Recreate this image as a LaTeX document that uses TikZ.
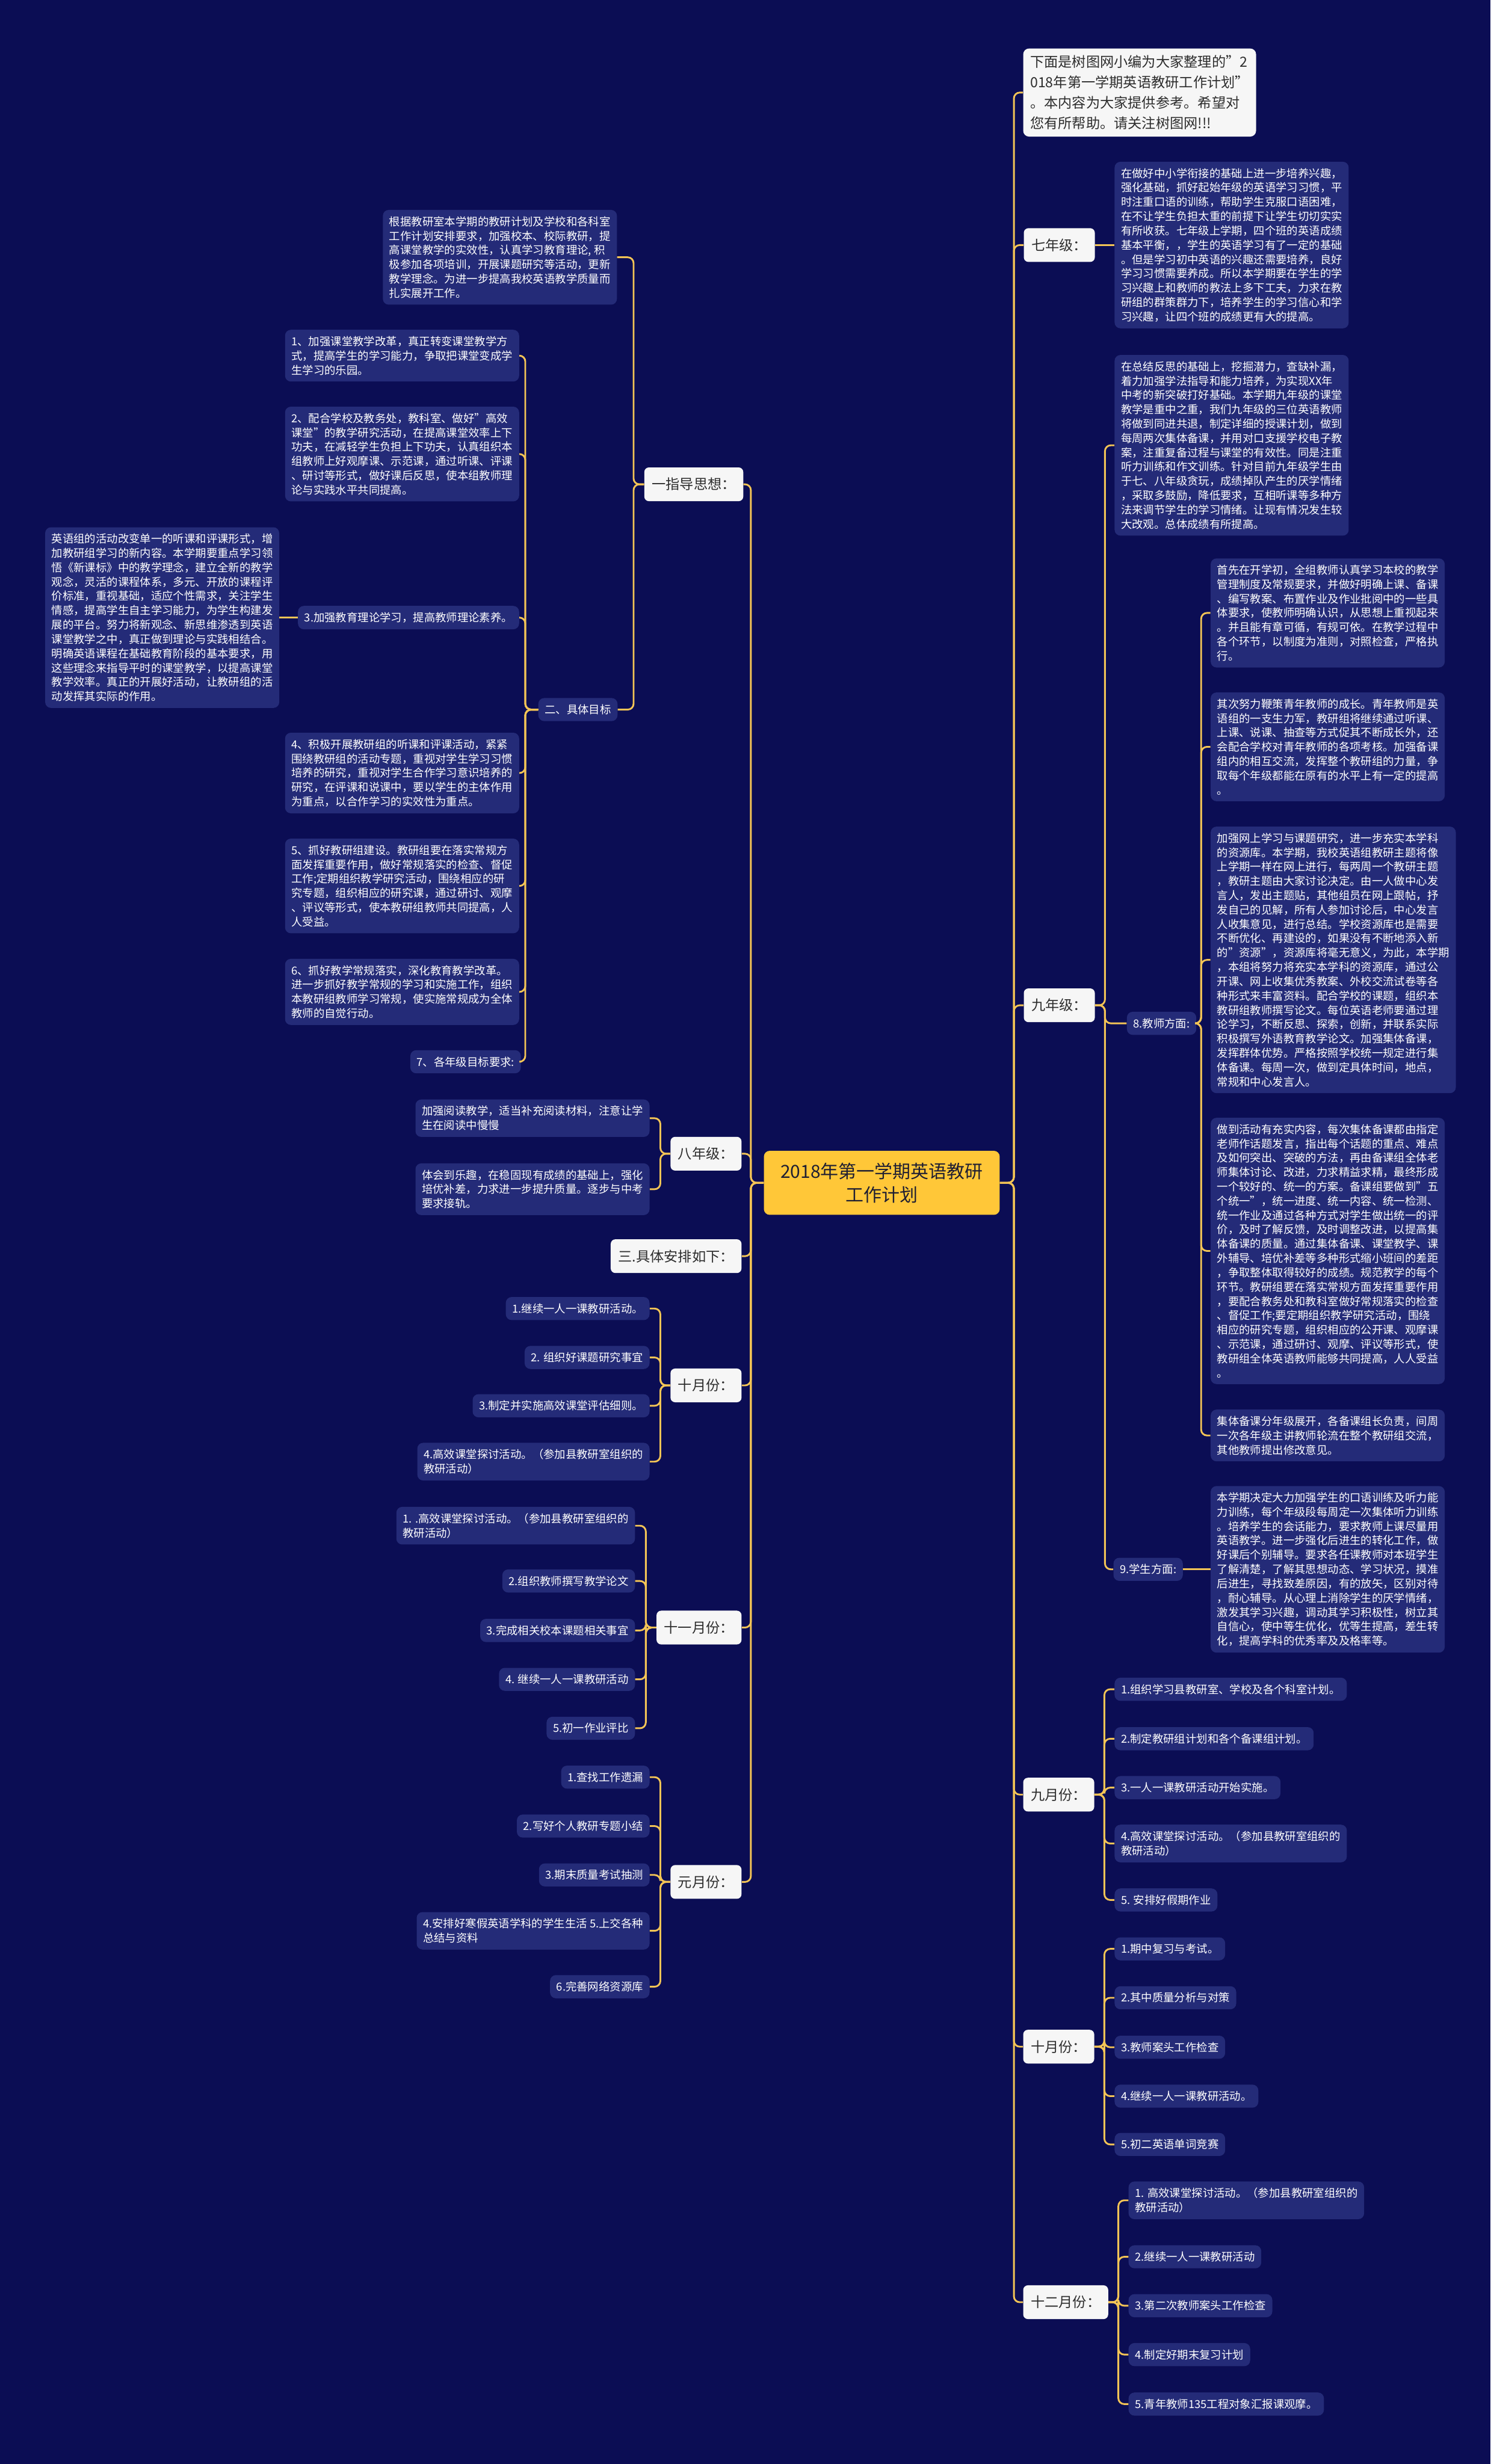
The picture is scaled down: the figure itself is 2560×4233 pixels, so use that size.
\documentclass[tikz,border=0pt]{standalone}
\usepackage{fontspec}
\setmainfont{Noto Sans CJK SC}
\definecolor{bgc}{RGB}{11,13,84}
\definecolor{blockc}{RGB}{36,43,120}
\definecolor{gold}{RGB}{243,196,86}
\definecolor{lblc}{RGB}{246,246,246}
\definecolor{lbltext}{RGB}{45,45,45}
\definecolor{centerc}{RGB}{255,199,56}
\definecolor{centertext}{RGB}{30,30,50}
\begin{document}
\begin{tikzpicture}[x=0.5pt,y=-0.5pt,
  blk/.style={fill=blockc, text=white, rounded corners=5pt, inner xsep=5.5pt, inner ysep=5.5pt, align=left, font=\fontsize{9.5pt}{12.3pt}\selectfont},
  lbl/.style={fill=lblc, text=lbltext, rounded corners=4pt, inner xsep=6.5pt, inner ysep=3pt, minimum height=29pt, font=\fontsize{12pt}{14pt}\selectfont},
  notebox/.style={fill=lblc, text=lbltext, rounded corners=5pt, inner xsep=6pt, inner ysep=6pt, align=left, font=\fontsize{12pt}{17.5pt}\selectfont},
  centerbox/.style={fill=centerc, text=centertext, rounded corners=5pt, minimum width=202.5pt, minimum height=55pt, align=center, font=\fontsize{15.5pt}{20pt}\selectfont},
  conn/.style={draw=gold, line width=1.5pt, rounded corners=5pt}]
\fill[bgc] (0,0) rectangle (2560,4233);
\useasboundingbox (0,0) rectangle (2560,4233);

% center
\node[centerbox] (ctr) at (1514.5,2032) {2018年第一学期英语教研\\工作计划};

% ---------- right side ----------
\node[notebox, anchor=west] (note) at (1757,159) {下面是树图网小编为大家整理的"2\\018年第一学期英语教研工作计划"\\。本内容为大家提供参考。希望对\\您有所帮助。请关注树图网!!!};

\node[lbl, anchor=west] (g7) at (1758,421) {七年级：};
\node[blk, anchor=west] (g7b) at (1914,421) {在做好中小学衔接的基础上进一步培养兴趣，\\强化基础，抓好起始年级的英语学习习惯，平\\时注重口语的训练，帮助学生克服口语困难，\\在不让学生负担太重的前提下让学生切切实实\\有所收获。七年级上学期，四个班的英语成绩\\基本平衡，，学生的英语学习有了一定的基础\\。但是学习初中英语的兴趣还需要培养，良好\\学习习惯需要养成。所以本学期要在学生的学\\习兴趣上和教师的教法上多下工夫，力求在教\\研组的群策群力下，培养学生的学习信心和学\\习兴趣，让四个班的成绩更有大的提高。};

\node[lbl, anchor=west] (g9) at (1758,1727) {九年级：};
\node[blk, anchor=west] (g9a) at (1914,765) {在总结反思的基础上，挖掘潜力，查缺补漏，\\着力加强学法指导和能力培养，为实现XX年\\中考的新突破打好基础。本学期九年级的课堂\\教学是重中之重，我们九年级的三位英语教师\\将做到同进共退，制定详细的授课计划，做到\\每周两次集体备课，并用对口支援学校电子教\\案，注重复备过程与课堂的有效性。同是注重\\听力训练和作文训练。针对目前九年级学生由\\于七、八年级贪玩，成绩掉队产生的厌学情绪\\，采取多鼓励，降低要求，互相听课等多种方\\法来调节学生的学习情绪。让现有情况发生较\\大改观。总体成绩有所提高。};
\node[blk, anchor=east] (t8) at (2055,1758) {8.教师方面:};
\node[blk, anchor=west] (t8a) at (2079,1053) {首先在开学初，全组教师认真学习本校的教学\\管理制度及常规要求，并做好明确上课、备课\\、编写教案、布置作业及作业批阅中的一些具\\体要求，使教师明确认识，从思想上重视起来\\。并且能有章可循，有规可依。在教学过程中\\各个环节，以制度为准则，对照检查，严格执\\行。};
\node[blk, anchor=west] (t8b) at (2079,1283) {其次努力鞭策青年教师的成长。青年教师是英\\语组的一支生力军，教研组将继续通过听课、\\上课、说课、抽查等方式促其不断成长外，还\\会配合学校对青年教师的各项考核。加强备课\\组内的相互交流，发挥整个教研组的力量，争\\取每个年级都能在原有的水平上有一定的提高\\。};
\node[blk, anchor=west] (t8c) at (2079,1649) {加强网上学习与课题研究，进一步充实本学科\\的资源库。本学期，我校英语组教研主题将像\\上学期一样在网上进行，每两周一个教研主题\\，教研主题由大家讨论决定。由一人做中心发\\言人，发出主题贴，其他组员在网上跟帖，抒\\发自己的见解，所有人参加讨论后，中心发言\\人收集意见，进行总结。学校资源库也是需要\\不断优化、再建设的，如果没有不断地添入新\\的"资源"，资源库将毫无意义，为此，本学期\\，本组将努力将充实本学科的资源库，通过公\\开课、网上收集优秀教案、外校交流试卷等各\\种形式来丰富资料。配合学校的课题，组织本\\教研组教师撰写论文。每位英语老师要通过理\\论学习，不断反思、探索，创新，并联系实际\\积极撰写外语教育教学论文。加强集体备课，\\发挥群体优势。严格按照学校统一规定进行集\\体备课。每周一次，做到定具体时间，地点，\\常规和中心发言人。};
\node[blk, anchor=west] (t8d) at (2079,2149) {做到活动有充实内容，每次集体备课都由指定\\老师作话题发言，指出每个话题的重点、难点\\及如何突出、突破的方法，再由备课组全体老\\师集体讨论、改进，力求精益求精，最终形成\\一个较好的、统一的方案。备课组要做到"五\\个统一"，统一进度、统一内容、统一检测、\\统一作业及通过各种方式对学生做出统一的评\\价，及时了解反馈，及时调整改进，以提高集\\体备课的质量。通过集体备课、课堂教学、课\\外辅导、培优补差等多种形式缩小班间的差距\\，争取整体取得较好的成绩。规范教学的每个\\环节。教研组要在落实常规方面发挥重要作用\\，要配合教务处和教科室做好常规落实的检查\\、督促工作;要定期组织教学研究活动，围绕\\相应的研究专题，组织相应的公开课、观摩课\\、示范课，通过研讨、观摩、评议等形式，使\\教研组全体英语教师能够共同提高，人人受益\\。};
\node[blk, anchor=west] (t8e) at (2079,2466) {集体备课分年级展开，各备课组长负责，间周\\一次各年级主讲教师轮流在整个教研组交流，\\其他教师提出修改意见。};
\node[blk, anchor=west] (s9) at (1912,2696) {9.学生方面:};
\node[blk, anchor=west] (s9b) at (2079,2696) {本学期决定大力加强学生的口语训练及听力能\\力训练，每个年级段每周定一次集体听力训练\\。培养学生的会话能力，要求教师上课尽量用\\英语教学。进一步强化后进生的转化工作，做\\好课后个别辅导。要求各任课教师对本班学生\\了解清楚，了解其思想动态、学习状况，摸准\\后进生，寻找致差原因，有的放矢，区别对待\\，耐心辅导。从心理上消除学生的厌学情绪，\\激发其学习兴趣，调动其学习积极性，树立其\\自信心，使中等生优化，优等生提高，差生转\\化，提高学科的优秀率及及格率等。};

\node[lbl, anchor=west] (m9) at (1757,3083) {九月份：};
\node[blk, anchor=west] (m9a) at (1914,2902) {1.组织学习县教研室、学校及各个科室计划。};
\node[blk, anchor=west] (m9b) at (1914,2987) {2.制定教研组计划和各个备课组计划。};
\node[blk, anchor=west] (m9c) at (1914,3071) {3.一人一课教研活动开始实施。};
\node[blk, anchor=west] (m9d) at (1914,3167) {4.高效课堂探讨活动。（参加县教研室组织的\\教研活动）};
\node[blk, anchor=west] (m9e) at (1914,3264) {5. 安排好假期作业};

\node[lbl, anchor=west] (m10) at (1757,3516) {十月份：};
\node[blk, anchor=west] (m10a) at (1914,3348) {1.期中复习与考试。};
\node[blk, anchor=west] (m10b) at (1914,3432) {2.其中质量分析与对策};
\node[blk, anchor=west] (m10c) at (1914,3517) {3.教师案头工作检查};
\node[blk, anchor=west] (m10d) at (1914,3601) {4.继续一人一课教研活动。};
\node[blk, anchor=west] (m10e) at (1914,3684) {5.初二英语单词竞赛};

\node[lbl, anchor=west] (m12) at (1757,3955) {十二月份：};
\node[blk, anchor=west] (m12a) at (1938,3780) {1. 高效课堂探讨活动。（参加县教研室组织的\\教研活动）};
\node[blk, anchor=west] (m12b) at (1938,3877) {2.继续一人一课教研活动};
\node[blk, anchor=west] (m12c) at (1938,3961) {3.第二次教师案头工作检查};
\node[blk, anchor=west] (m12d) at (1938,4045) {4.制定好期末复习计划};
\node[blk, anchor=west] (m12e) at (1938,4130) {5.青年教师135工程对象汇报课观摩。};

% ---------- left side ----------
\node[lbl, anchor=east] (zd) at (1277,832) {一指导思想：};
\node[blk, anchor=east] (intro) at (1060,442) {根据教研室本学期的教研计划及学校和各科室\\工作计划安排要求，加强校本、校际教研，提\\高课堂教学的实效性，认真学习教育理论, 积\\极参加各项培训，开展课题研究等活动，更新\\教学理念。为进一步提高我校英语教学质量而\\扎实展开工作。};
\node[blk, anchor=east] (mb) at (1061,1219) {二、具体目标};
\node[blk, anchor=east] (i1) at (892,611) {1、加强课堂教学改革，真正转变课堂教学方\\式，提高学生的学习能力，争取把课堂变成学\\生学习的乐园。};
\node[blk, anchor=east] (i2) at (892,780) {2、配合学校及教务处，教科室、做好"高效\\课堂"的教学研究活动，在提高课堂效率上下\\功夫，在减轻学生负担上下功夫，认真组织本\\组教师上好观摩课、示范课，通过听课、评课\\、研讨等形式，做好课后反思，使本组教师理\\论与实践水平共同提高。};
\node[blk, anchor=east] (i3) at (892,1061) {3.加强教育理论学习，提高教师理论素养。};
\node[blk, anchor=east] (i3b) at (480,1061) {英语组的活动改变单一的听课和评课形式，增\\加教研组学习的新内容。本学期要重点学习领\\悟《新课标》中的教学理念，建立全新的教学\\观念，灵活的课程体系，多元、开放的课程评\\价标准，重视基础，适应个性需求，关注学生\\情感，提高学生自主学习能力，为学生构建发\\展的平台。努力将新观念、新思维渗透到英语\\课堂教学之中，真正做到理论与实践相结合。\\明确英语课程在基础教育阶段的基本要求，用\\这些理念来指导平时的课堂教学，以提高课堂\\教学效率。真正的开展好活动，让教研组的活\\动发挥其实际的作用。};
\node[blk, anchor=east] (i4) at (892,1328) {4、积极开展教研组的听课和评课活动，紧紧\\围绕教研组的活动专题，重视对学生学习习惯\\培养的研究，重视对学生合作学习意识培养的\\研究，在评课和说课中，要以学生的主体作用\\为重点，以合作学习的实效性为重点。};
\node[blk, anchor=east] (i5) at (892,1522) {5、抓好教研组建设。教研组要在落实常规方\\面发挥重要作用，做好常规落实的检查、督促\\工作;定期组织教学研究活动，围绕相应的研\\究专题，组织相应的研究课，通过研讨、观摩\\、评议等形式，使本教研组教师共同提高，人\\人受益。};
\node[blk, anchor=east] (i6) at (892,1704) {6、抓好教学常规落实，深化教育教学改革。\\进一步抓好教学常规的学习和实施工作，组织\\本教研组教师学习常规，使实施常规成为全体\\教师的自觉行动。};
\node[blk, anchor=east] (i7) at (895,1824) {7、各年级目标要求:};

\node[lbl, anchor=east] (g8) at (1274,1982) {八年级：};
\node[blk, anchor=east] (g8a) at (1116,1921) {加强阅读教学，适当补充阅读材料，注意让学\\生在阅读中慢慢};
\node[blk, anchor=east] (g8b) at (1116,2043) {体会到乐趣，在稳固现有成绩的基础上，强化\\培优补差，力求进一步提升质量。逐步与中考\\要求接轨。};

\node[lbl, anchor=east] (ap) at (1274,2158) {三.具体安排如下：};

\node[lbl, anchor=east] (l10) at (1274,2380) {十月份：};
\node[blk, anchor=east] (l10a) at (1116,2248) {1.继续一人一课教研活动。};
\node[blk, anchor=east] (l10b) at (1116,2332) {2. 组织好课题研究事宜};
\node[blk, anchor=east] (l10c) at (1116,2415) {3.制定并实施高效课堂评估细则。};
\node[blk, anchor=east] (l10d) at (1116,2511) {4.高效课堂探讨活动。（参加县教研室组织的\\教研活动）};

\node[lbl, anchor=east] (l11) at (1274,2796) {十一月份：};
\node[blk, anchor=east] (l11a) at (1091,2621) {1. .高效课堂探讨活动。（参加县教研室组织的\\教研活动）};
\node[blk, anchor=east] (l11b) at (1091,2716) {2.组织教师撰写教学论文};
\node[blk, anchor=east] (l11c) at (1091,2801) {3.完成相关校本课题相关事宜};
\node[blk, anchor=east] (l11d) at (1091,2885) {4. 继续一人一课教研活动};
\node[blk, anchor=east] (l11e) at (1091,2969) {5.初一作业评比};

\node[lbl, anchor=east] (l1) at (1274,3233) {元月份：};
\node[blk, anchor=east] (l1a) at (1116,3053) {1.查找工作遗漏};
\node[blk, anchor=east] (l1b) at (1116,3137) {2.写好个人教研专题小结};
\node[blk, anchor=east] (l1c) at (1116,3221) {3.期末质量考试抽测};
\node[blk, anchor=east] (l1d) at (1116,3317) {4.安排好寒假英语学科的学生生活 5.上交各种\\总结与资料};
\node[blk, anchor=east] (l1e) at (1116,3413) {6.完善网络资源库};

% ---------- connectors ----------
\foreach \c in {note,g7,g9,m9,m10,m12}
  \draw[conn] (ctr.east) -- ++(24,0) |- (\c.west);
\foreach \c in {zd,g8,ap,l10,l11,l1}
  \draw[conn] (ctr.west) -- ++(-22,0) |- (\c.east);

\draw[conn] (g7.east) -- (g7b.west);
\foreach \c in {g9a,t8,s9}
  \draw[conn] (g9.east) -- ++(17,0) |- (\c.west);
\foreach \c in {t8a,t8b,t8c,t8d,t8e}
  \draw[conn] (t8.east) -- ++(8,0) |- (\c.west);
\draw[conn] (s9.east) -- (s9b.west);
\foreach \c in {m9a,m9b,m9c,m9d,m9e}
  \draw[conn] (m9.east) -- ++(17,0) |- (\c.west);
\foreach \c in {m10a,m10b,m10c,m10d,m10e}
  \draw[conn] (m10.east) -- ++(17,0) |- (\c.west);
\foreach \c in {m12a,m12b,m12c,m12d,m12e}
  \draw[conn] (m12.east) -- ++(17,0) |- (\c.west);

\foreach \c in {intro,mb}
  \draw[conn] (zd.west) -- ++(-18,0) |- (\c.east);
\foreach \c in {i1,i2,i3,i4,i5,i6,i7}
  \draw[conn] (mb.west) -- ++(-22,0) |- (\c.east);
\draw[conn] (i3.west) -- (i3b.east);
\foreach \c in {g8a,g8b}
  \draw[conn] (g8.west) -- ++(-17,0) |- (\c.east);
\foreach \c in {l10a,l10b,l10c,l10d}
  \draw[conn] (l10.west) -- ++(-17,0) |- (\c.east);
\foreach \c in {l11a,l11b,l11c,l11d,l11e}
  \draw[conn] (l11.west) -- ++(-18,0) |- (\c.east);
\foreach \c in {l1a,l1b,l1c,l1d,l1e}
  \draw[conn] (l1.west) -- ++(-17,0) |- (\c.east);
\end{tikzpicture}
\end{document}
